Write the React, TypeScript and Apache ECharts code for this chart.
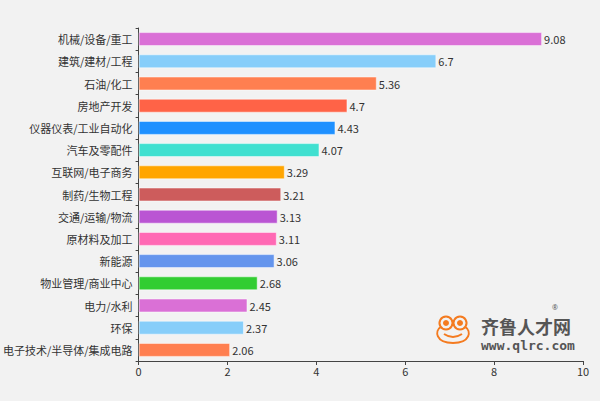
import React, { useEffect, useRef } from "react";
import * as echarts from "echarts";

const categories = [
  "机械/设备/重工",
  "建筑/建材/工程",
  "石油/化工",
  "房地产开发",
  "仪器仪表/工业自动化",
  "汽车及零配件",
  "互联网/电子商务",
  "制药/生物工程",
  "交通/运输/物流",
  "原材料及加工",
  "新能源",
  "物业管理/商业中心",
  "电力/水利",
  "环保",
  "电子技术/半导体/集成电路",
];
const values = [9.08, 6.7, 5.36, 4.7, 4.43, 4.07, 3.29, 3.21, 3.13, 3.11, 3.06, 2.68, 2.45, 2.37, 2.06];
const colors = [
  "#da70d6", "#87cefa", "#ff7f50", "#ff6347", "#1e90ff", "#40e0d0", "#ffa500", "#cd5c5c",
  "#ba55d3", "#ff69b4", "#6495ed", "#32cd32", "#da70d6", "#87cefa", "#ff7f50",
];
const xTicks = [0, 2, 4, 6, 8, 10];

const frogPath =
  "M6.5,12 C1,16 1,27.5 19,28 C37,27.5 37,16 31.5,12 " +
  "M12,1.5 A6.5,6.5 0 1 0 12.01,1.5 Z " +
  "M26,1.5 A6.5,6.5 0 1 0 26.01,1.5 Z " +
  "M10,19 Q19,25 28,19";
const frogEyes = "M12,5 A3,3 0 1 0 12.01,5 Z M26,5 A3,3 0 1 0 26.01,5 Z";

export default function App() {
  const ref = useRef<HTMLDivElement>(null);
  useEffect(() => {
    if (!ref.current) return;
    echarts.graphic.registerShape("frog", echarts.graphic.extendPath(frogPath, {}) as any);
    echarts.graphic.registerShape("frogeyes", echarts.graphic.extendPath(frogEyes, {}) as any);
    const chart = echarts.init(ref.current, null, { renderer: "svg" });
    const font = '"Noto Sans CJK SC", "Noto Sans", sans-serif';
    chart.setOption({
      animation: false,
      backgroundColor: "#f2f2f2",
      textStyle: { fontFamily: font },
      grid: { left: 137, right: 17, top: 28, bottom: 40, containLabel: false },
      xAxis: {
        type: "value",
        min: 0,
        max: 10,
        interval: 2,
        axisLine: { show: true, lineStyle: { color: "#444", width: 1 } },
        axisTick: { show: true, length: 4, lineStyle: { color: "#444" } },
        axisLabel: {
          color: "#333",
          fontSize: 11,
          margin: 4,
          formatter: (v: number) => (xTicks.includes(v) ? String(v) : ""),
        },
        splitLine: { show: false },
      },
      yAxis: {
        type: "category",
        data: categories,
        inverse: true,
        axisLine: { show: true, lineStyle: { color: "#444", width: 1 } },
        axisTick: { show: true, length: 3, lineStyle: { color: "#444" } },
        axisLabel: { color: "#333", fontSize: 11, margin: 6 },
      },
      series: [
        {
          type: "bar",
          barWidth: 14,
          data: values.map((v, i) => ({
            value: v,
            itemStyle: { color: colors[i], borderColor: "rgba(255,255,255,0.5)", borderWidth: 1 },
          })),
          label: {
            show: true,
            position: "right",
            distance: 2,
            color: "#333",
            fontSize: 11,
          },
        },
      ],
      graphic: [
        {
          type: "frog",
          x: 434,
          y: 315,
          style: { fill: "none", stroke: "#f47b20", lineWidth: 2 },
        },
        {
          type: "frogeyes",
          x: 434,
          y: 315,
          style: { fill: "#f47b20", stroke: "none" },
        },
        {
          type: "text",
          x: 481,
          y: 317,
          style: {
            text: "齐鲁人才网",
            fill: "#555",
            font: 'bold 18px "Noto Sans CJK SC", sans-serif',
            verticalAlign: "top",
          },
        },
        {
          type: "text",
          x: 552,
          y: 304,
          style: {
            text: "®",
            fill: "#555",
            font: '7px "Noto Sans", sans-serif',
            verticalAlign: "top",
          },
        },
        {
          type: "text",
          x: 481,
          y: 339,
          style: {
            text: "www.qlrc.com",
            fill: "#555",
            font: 'bold 13px "DejaVu Sans Mono", monospace',
            verticalAlign: "top",
          },
        },
      ],
    });
    return () => chart.dispose();
  }, []);
  return (
    <div
      ref={ref}
      style={{ position: "fixed", left: 0, top: 0, width: 600, height: 401 }}
    />
  );
}
